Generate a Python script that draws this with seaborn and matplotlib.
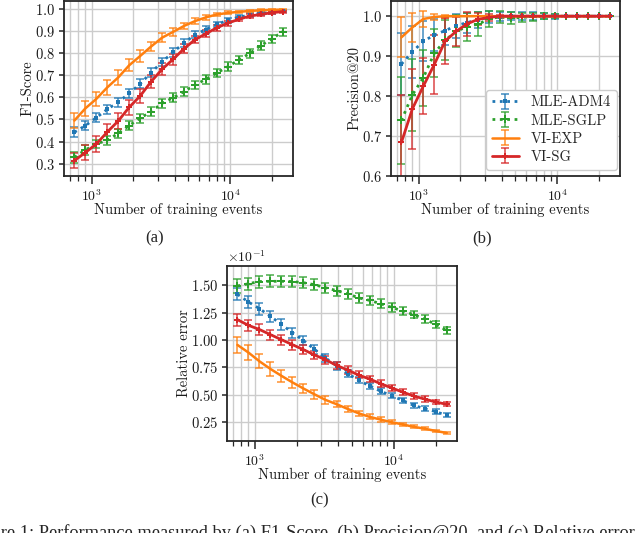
import matplotlib
matplotlib.use("Agg")
import matplotlib.pyplot as plt
import seaborn as sns
from matplotlib.ticker import MultipleLocator

# ---------------- data ----------------
x_events = [750, 900, 1080, 1296, 1555, 1866, 2239, 2687, 3225, 3870,
            4644, 5573, 6687, 8025, 9630, 11555, 13866, 16640, 19968, 23961]

method_names = ["MLE-ADM4", "MLE-SGLP", "VI-EXP", "VI-SG"]

# (a) F1-Score
f1_adm4 = [0.442, 0.472, 0.508, 0.546, 0.578, 0.618, 0.661, 0.712, 0.760, 0.804,
           0.846, 0.883, 0.907, 0.930, 0.949, 0.963, 0.972, 0.980, 0.985, 0.990]
f1_adm4_err = [0.022, 0.02, 0.02, 0.02, 0.02, 0.02, 0.02, 0.02, 0.02, 0.02,
               0.018, 0.016, 0.015, 0.013, 0.012, 0.01, 0.009, 0.008, 0.007, 0.006]
f1_sglp = [0.329, 0.362, 0.389, 0.406, 0.437, 0.472, 0.506, 0.535, 0.573, 0.598,
           0.626, 0.656, 0.682, 0.710, 0.739, 0.769, 0.799, 0.834, 0.864, 0.897]
f1_sglp_err = [0.025, 0.022, 0.02, 0.02, 0.02, 0.02, 0.02, 0.02, 0.02, 0.02,
               0.02, 0.02, 0.02, 0.02, 0.02, 0.02, 0.02, 0.02, 0.02, 0.018]
f1_exp = [0.495, 0.550, 0.593, 0.645, 0.690, 0.745, 0.787, 0.830, 0.870, 0.896,
          0.923, 0.945, 0.962, 0.975, 0.982, 0.987, 0.991, 0.994, 0.996, 0.997]
f1_exp_err = [0.035, 0.035, 0.033, 0.033, 0.032, 0.028, 0.025, 0.022, 0.02, 0.018,
              0.015, 0.012, 0.01, 0.008, 0.007, 0.006, 0.005, 0.004, 0.004, 0.003]
f1_sg = [0.314, 0.350, 0.389, 0.443, 0.493, 0.555, 0.606, 0.671, 0.727, 0.772,
         0.820, 0.861, 0.888, 0.915, 0.936, 0.953, 0.968, 0.975, 0.983, 0.988]
f1_sg_err = [0.033, 0.033, 0.035, 0.035, 0.035, 0.033, 0.033, 0.03, 0.028, 0.025,
             0.02, 0.017, 0.015, 0.013, 0.011, 0.009, 0.008, 0.007, 0.006, 0.005]

# (b) Precision@20
p_adm4 = [0.880, 0.911, 0.937, 0.953, 0.964, 0.976, 0.984, 0.991, 0.997, 0.999,
          1.0, 1.0, 1.0, 1.0, 1.0, 1.0, 1.0, 1.0, 1.0, 1.0]
p_adm4_err = [0.078, 0.065, 0.05, 0.04, 0.035, 0.03, 0.025, 0.02, 0.015, 0.012,
              0.01, 0.01, 0.01, 0.008, 0.006, 0.0, 0.0, 0.0, 0.0, 0.0]
p_sglp = [0.739, 0.803, 0.846, 0.907, 0.940, 0.962, 0.974, 0.980, 0.993, 0.999,
          0.995, 0.997, 0.999, 1.0, 1.0, 1.0, 1.0, 1.0, 1.0, 1.0]
p_sglp_err = [0.11, 0.09, 0.07, 0.06, 0.05, 0.04, 0.035, 0.03, 0.02, 0.015,
              0.015, 0.012, 0.01, 0.008, 0.005, 0.0, 0.0, 0.0, 0.0, 0.0]
p_exp = [0.947, 0.972, 0.993, 0.998, 1.0, 1.0, 1.0, 1.0, 1.0, 1.0,
         1.0, 1.0, 1.0, 1.0, 1.0, 1.0, 1.0, 1.0, 1.0, 1.0]
p_exp_err = [0.05, 0.037, 0.02, 0.008, 0.004, 0.0, 0.0, 0.0, 0.0, 0.0,
             0.0, 0.0, 0.0, 0.0, 0.0, 0.0, 0.0, 0.0, 0.0, 0.0]
p_sg = [0.684, 0.768, 0.825, 0.879, 0.938, 0.962, 0.981, 0.992, 0.997, 1.0,
        1.0, 1.0, 1.0, 1.0, 1.0, 1.0, 1.0, 1.0, 1.0, 1.0]
p_sg_err = [0.118, 0.10, 0.07, 0.075, 0.058, 0.037, 0.03, 0.015, 0.008, 0.004,
            0.0, 0.0, 0.0, 0.0, 0.0, 0.0, 0.0, 0.0, 0.0, 0.0]

# (c) Relative error (values shown in units of 1e-1)
rel_adm4 = [1.418, 1.348, 1.287, 1.216, 1.143, 1.067, 0.995, 0.915, 0.835, 0.765,
            0.692, 0.634, 0.580, 0.532, 0.490, 0.448, 0.402, 0.372, 0.345, 0.311]
rel_adm4_err = [0.055, 0.055, 0.055, 0.05, 0.05, 0.045, 0.04, 0.04, 0.035, 0.035,
                0.03, 0.03, 0.028, 0.028, 0.025, 0.022, 0.02, 0.02, 0.02, 0.018]
rel_sglp = [1.494, 1.515, 1.535, 1.537, 1.537, 1.535, 1.524, 1.506, 1.478, 1.452,
            1.424, 1.386, 1.363, 1.332, 1.299, 1.266, 1.233, 1.192, 1.143, 1.088]
rel_sglp_err = [0.06, 0.055, 0.055, 0.055, 0.05, 0.05, 0.05, 0.05, 0.045, 0.045,
                0.045, 0.045, 0.04, 0.04, 0.04, 0.035, 0.035, 0.035, 0.035, 0.03]
rel_exp = [0.955, 0.885, 0.805, 0.735, 0.672, 0.612, 0.556, 0.503, 0.452, 0.413,
           0.370, 0.330, 0.297, 0.272, 0.248, 0.228, 0.206, 0.189, 0.168, 0.150]
rel_exp_err = [0.075, 0.07, 0.065, 0.06, 0.055, 0.05, 0.045, 0.04, 0.035, 0.03,
               0.028, 0.025, 0.022, 0.02, 0.018, 0.016, 0.014, 0.012, 0.01, 0.008]
rel_sg = [1.186, 1.134, 1.096, 1.049, 1.003, 0.957, 0.912, 0.863, 0.820, 0.768,
          0.726, 0.680, 0.643, 0.601, 0.562, 0.524, 0.488, 0.460, 0.433, 0.412]
rel_sg_err = [0.055, 0.05, 0.05, 0.045, 0.045, 0.045, 0.04, 0.04, 0.038, 0.035,
              0.035, 0.032, 0.03, 0.03, 0.028, 0.026, 0.025, 0.024, 0.022, 0.02]

# ---------------- style ----------------
sns.set_theme(style="whitegrid")
plt.rcParams.update({
    "font.family": ["cmr10", "DejaVu Serif"],
    "mathtext.fontset": "cm",
    "axes.formatter.use_mathtext": True,
    "axes.unicode_minus": False,
    "axes.edgecolor": "0.15",
    "axes.linewidth": 1.3,
    "grid.color": "0.8",
    "grid.linewidth": 1.0,
    "xtick.bottom": True,
    "ytick.left": True,
    "xtick.color": "0.15",
    "ytick.color": "0.15",
    "xtick.labelcolor": "0.1",
    "ytick.labelcolor": "0.1",
    "axes.labelcolor": "0.1",
    "font.size": 10,
})

styles = {
    "MLE-ADM4": dict(color="#1f77b4", ls=":", marker="s", ms=2.8, lw=2.0),
    "MLE-SGLP": dict(color="#2ca02c", ls=":", marker="P", ms=5.5, lw=2.0),
    "VI-EXP": dict(color="#ff7f0e", ls="-", marker=None, ms=0, lw=1.8),
    "VI-SG": dict(color="#d62728", ls="-", marker="P", ms=5.0, lw=2.0),
}

W, H = 640, 533
fig = plt.figure(figsize=(W / 100, H / 100), dpi=100)


def px_axes(left, right, top, bottom):
    return fig.add_axes([left / W, 1 - bottom / H, (right - left) / W, (bottom - top) / H])


def draw_panel(ax, series, scale=1.0):
    handles = []
    for name, y, err in series:
        st = styles[name]
        ys = [v * scale for v in y]
        es = [v * scale for v in err]
        sns.lineplot(x=x_events, y=ys, ax=ax, color=st["color"], linestyle=st["ls"],
                     marker=st["marker"], markersize=st["ms"], markeredgewidth=0,
                     linewidth=st["lw"], legend=False, zorder=3)
        line = ax.lines[-1]
        eb = ax.errorbar(x_events, ys, yerr=es, fmt="none", ecolor=st["color"],
                         elinewidth=1.1, capsize=3, capthick=1.1, alpha=0.85, zorder=2)
        handles.append((line, eb))
    ax.set_xscale("log")
    ax.grid(True, which="major", axis="both", color="0.8", lw=1.0)
    ax.grid(True, which="minor", axis="x", color="0.8", lw=1.0)
    ax.tick_params(axis="x", which="major", length=6, width=1.1, direction="out", pad=3,
                   labelsize=10)
    ax.tick_params(axis="x", which="minor", length=3.5, width=0.9, direction="out")
    ax.tick_params(axis="y", which="major", length=3.5, width=1.1, direction="out", pad=3,
                   labelsize=10.5)
    ax.set_xlabel("Number of training events", labelpad=-1, fontsize=10.5)
    for sp in ax.spines.values():
        sp.set_color("0.15")
        sp.set_linewidth(1.3)
    return handles


# (a)
ax_a = px_axes(64, 293, 1, 176)
draw_panel(ax_a, [("MLE-ADM4", f1_adm4, f1_adm4_err), ("MLE-SGLP", f1_sglp, f1_sglp_err),
                  ("VI-EXP", f1_exp, f1_exp_err), ("VI-SG", f1_sg, f1_sg_err)])
ax_a.set_ylim(0.244, 1.036)
ax_a.yaxis.set_major_locator(MultipleLocator(0.1))
ax_a.set_ylabel("F1-Score", labelpad=0, fontsize=10.5)

# (b)
ax_b = px_axes(391, 620, 1, 176)
hb = draw_panel(ax_b, [("MLE-ADM4", p_adm4, p_adm4_err), ("MLE-SGLP", p_sglp, p_sglp_err),
                       ("VI-EXP", p_exp, p_exp_err), ("VI-SG", p_sg, p_sg_err)])
ax_b.set_ylim(0.6, 1.038)
ax_b.yaxis.set_major_locator(MultipleLocator(0.1))
ax_b.set_ylabel("Precision@20", labelpad=0, fontsize=10.5)
leg = ax_b.legend(hb, method_names, loc="lower right", fontsize=10.5, frameon=True,
                  fancybox=True, edgecolor="0.8", framealpha=1.0, labelspacing=0.3,
                  handlelength=1.9, handletextpad=0.8, borderpad=0.4, borderaxespad=0.2,
                  bbox_to_anchor=(1.0, 0.02))
leg.get_frame().set_linewidth(1.0)

# (c)
ax_c = px_axes(227, 457, 266, 441)
draw_panel(ax_c, [("MLE-ADM4", rel_adm4, rel_adm4_err), ("MLE-SGLP", rel_sglp, rel_sglp_err),
                  ("VI-EXP", rel_exp, rel_exp_err), ("VI-SG", rel_sg, rel_sg_err)], scale=0.1)
ax_c.set_ylim(0.0076, 0.1677)
ax_c.yaxis.set_major_locator(MultipleLocator(0.025))
ax_c.ticklabel_format(axis="y", style="sci", scilimits=(0, 0), useMathText=True)
ax_c.yaxis.get_offset_text().set_fontsize(10)
ax_c.set_ylabel("Relative error", labelpad=0, fontsize=10.5)

# sub-captions and figure caption
cap_font = ["Liberation Serif", "DejaVu Serif"]
fig.text(155 / W, 1 - 238 / H, "(a)", ha="center", va="center", fontsize=12, family=cap_font)
fig.text(482 / W, 1 - 238 / H, "(b)", ha="center", va="center", fontsize=12, family=cap_font)
fig.text(320 / W, 1 - 500 / H, "(c)", ha="center", va="center", fontsize=12, family=cap_font)
fig.text(-33 / W, 1 - 537.5 / H,
         "Figure 1: Performance measured by (a) F1-Score, (b) Precision@20, and (c) Relative error.",
         ha="left", va="baseline", fontsize=13.2, family=cap_font)

fig.savefig("out.png", dpi=100)
